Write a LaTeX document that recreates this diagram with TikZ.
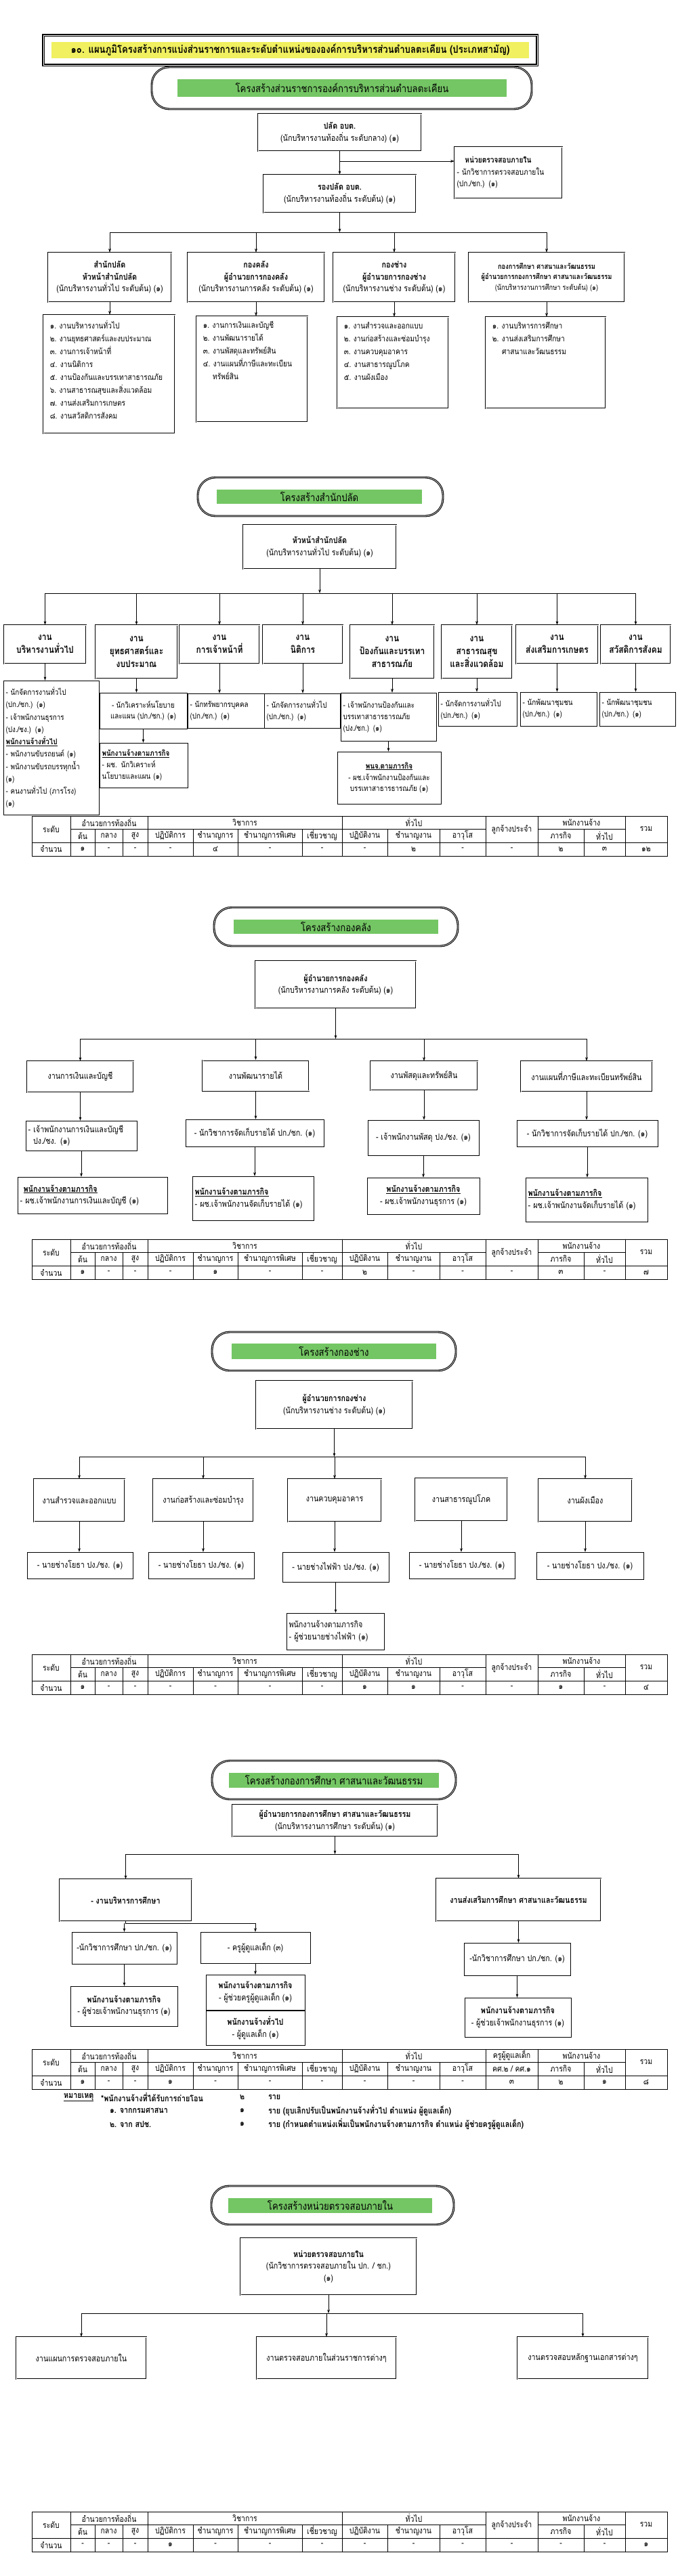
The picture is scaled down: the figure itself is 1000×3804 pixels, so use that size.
\documentclass[tikz,border=0pt]{standalone}
\usepackage{fontspec}
\setmainfont[Script=Thai,FakeStretch=0.85]{Loma}
\usetikzlibrary{arrows.meta}

\definecolor{titleyellow}{RGB}{240,240,96}
\definecolor{boxgreen}{RGB}{116,198,100}

\newcommand{\bodyfont}{\fontsize{18}{25}\selectfont}
\newcommand{\listfont}{\fontsize{17}{27}\selectfont}
\newcommand{\tabfont}{\fontsize{17.5}{19}\selectfont}
\newcommand{\workfont}{\fontsize{20}{27}\selectfont\bfseries}
\newcommand{\ovalfont}{\fontsize{22}{24}\selectfont}
\newcommand{\titlefont}{\fontsize{22}{26}\selectfont\bfseries}
\newcommand{\bul}[1]{\underline{\textbf{#1}}}

\tikzset{
  dbox/.style={draw=black, line width=0.8pt, double=white, double distance=1.2pt, align=center, inner sep=3pt},
  sbox/.style={draw=black, line width=0.8pt, align=center, inner sep=3pt},
  sz/.style 2 args={minimum width=#1*0.5mm, minimum height=#2*0.5mm},
  lsz/.style 2 args={/utils/exec={\pgfmathsetlengthmacro\boxtw{#1*0.5mm-10pt}}, text width=\boxtw, inner xsep=5pt, minimum height=#2*0.5mm, align=left},
  oval/.style={draw=black, line width=1.6pt, double=white, double distance=0.9pt, rounded corners=13mm},
  ovaltext/.style={fill=boxgreen, inner sep=0pt, font=\ovalfont},
  listtext/.style={anchor=north west, align=left, inner sep=0pt, font=\listfont},
  arr/.style={->, line width=0.8pt},
  bus/.style={line width=0.8pt},
  tabline/.style={line width=0.7pt},
  tabcell/.style={font=\tabfont, inner sep=0pt},
  notetext/.style={anchor=west, inner sep=0pt, font=\fontsize{18}{20}\selectfont\bfseries},
}

% ตารางอัตรากำลัง: #1 ชื่อ, #2 ขอบบน, #3 หัวคอลัมน์ลูกจ้าง, #4 จำนวน
\newcommand{\stafftable}[4]{%
  \begin{scope}[shift={(0,#2)}]
    \draw[tabline] (47,0) rectangle (985,59);
    \draw[tabline] (47,39) -- (985,39);
    \draw[tabline] (104,19) -- (717,19) (794,19) -- (923,19);
    \foreach \cx in {104,218,505,717,794,923}
      \draw[tabline] (\cx,0) -- (\cx,59);
    \foreach \cx in {140,181,285,351,446,572,649,862}
      \draw[tabline] (\cx,19) -- (\cx,59);
    \node[tabcell] (#1-lvl) at (75.5,19.5) {ระดับ};
    \node[tabcell] (#1-dir) at (161,9.5) {อำนวยการท้องถิ่น};
    \node[tabcell] (#1-d1) at (122,29) {ต้น};
    \node[tabcell] (#1-d2) at (160.5,29) {กลาง};
    \node[tabcell] (#1-d3) at (199.5,29) {สูง};
    \node[tabcell] (#1-aca) at (361.5,9.5) {วิชาการ};
    \node[tabcell] (#1-a1) at (251.5,29) {ปฏิบัติการ};
    \node[tabcell] (#1-a2) at (318,29) {ชำนาญการ};
    \node[tabcell] (#1-a3) at (398.5,29) {ชำนาญการพิเศษ};
    \node[tabcell] (#1-a4) at (475.5,29) {เชี่ยวชาญ};
    \node[tabcell] (#1-gen) at (611,9.5) {ทั่วไป};
    \node[tabcell] (#1-g1) at (538.5,29) {ปฏิบัติงาน};
    \node[tabcell] (#1-g2) at (610.5,29) {ชำนาญงาน};
    \node[tabcell] (#1-g3) at (683,29) {อาวุโส};
    \node[tabcell] (#1-emp) at (755.5,19.5) {#3};
    \node[tabcell] (#1-hire) at (858.5,9.5) {พนักงานจ้าง};
    \node[tabcell] (#1-h1) at (828,29) {ภารกิจ};
    \node[tabcell] (#1-h2) at (892.5,29) {ทั่วไป};
    \node[tabcell] (#1-sum) at (954,19.5) {รวม};
    \node[tabcell] (#1-num) at (75.5,49) {จำนวน};
    \foreach \v [count=\i] in {#4}{
      \pgfmathsetmacro\cx{{122,160.5,199.5,251.5,318,398.5,475.5,538.5,610.5,683,755.5,828,892.5,954}[\i-1]}
      \node[tabcell] (#1-v\i) at (\cx,49) {\v};
    }
  \end{scope}}

\begin{document}
\begin{tikzpicture}[x=0.5mm, y=-0.5mm, font=\bodyfont, >={Stealth[length=8pt,width=5.5pt]}]
\fill[white] (0,0) rectangle (1000,3804);
\useasboundingbox (0,0) rectangle (1000,3804);

% ===== หัวเรื่อง
\node[draw, line width=2pt, double=white, double distance=1pt, sz={729}{44}] (titlebox) at (428.5,74) {};
\node[fill=titleyellow, inner sep=0pt, sz={705}{24}, font=\titlefont] (title) at (428.5,74) {๑๐. แผนภูมิโครงสร้างการแบ่งส่วนราชการและระดับตำแหน่งขององค์การบริหารส่วนตำบลตะเคียน  (ประเภทสามัญ)};

% ===== โครงสร้างส่วนราชการ
\node[oval, sz={561}{62}] (ov0) at (504.5,130) {};
\node[ovaltext, sz={486}{26}] (ov0t) at (505,130) {โครงสร้างส่วนราชการองค์การบริหารส่วนตำบลตะเคียน};

\node[dbox, sz={241}{55}] (plad) at (501.5,195.5) {\textbf{ปลัด  อบต.}\\(นักบริหารงานท้องถิ่น ระดับกลาง) (๑)};
\node[dbox, lsz={159}{76}, font=\fontsize{17}{25}\selectfont] (audit) at (750.5,255) {\hspace*{1em}\textbf{หน่วยตรวจสอบภายใน}\\- นักวิชาการตรวจสอบภายใน\\(ปก./ชก.) (๑)};
\node[dbox, sz={225}{56}] (rong) at (501.5,286) {\textbf{รองปลัด  อบต.}\\(นักบริหารงานท้องถิ่น ระดับต้น) (๑)};
\draw[arr] (plad.south) -- (rong.north);
\coordinate (j0) at (501.5,238);
\draw[arr] (j0) -- (j0 -| audit.west);

\node[dbox, sz={182}{73}] (div1) at (162,409.5) {\textbf{สำนักปลัด}\\\textbf{หัวหน้าสำนักปลัด}\\(นักบริหารงานทั่วไป ระดับต้น) (๑)};
\node[dbox, sz={202}{73}] (div2) at (378,409.5) {\textbf{กองคลัง}\\\textbf{ผู้อำนวยการกองคลัง}\\(นักบริหารงานการคลัง ระดับต้น) (๑)};
\node[dbox, sz={180}{73}] (div3) at (582,409.5) {\textbf{กองช่าง}\\\textbf{ผู้อำนวยการกองช่าง}\\(นักบริหารงานช่าง ระดับต้น) (๑)};
\node[dbox, sz={230}{73}, font=\fontsize{15.5}{22}\selectfont] (div4) at (807,409.5) {\textbf{กองการศึกษา ศาสนาและวัฒนธรรม}\\\textbf{ผู้อำนวยการกองการศึกษา ศาสนาและวัฒนธรรม}\\(นักบริหารงานการศึกษา ระดับต้น) (๑)};
\coordinate (bus0) at (501.5,343);
\draw[arr] (rong.south) -- (bus0);
\draw[bus] (div1.north |- bus0) -- (div4.north |- bus0);
\draw[arr] (div1.north |- bus0) -- (div1.north);
\draw[arr] (div2.north |- bus0) -- (div2.north);
\draw[arr] (div3.north |- bus0) -- (div3.north);
\draw[arr] (div4.north |- bus0) -- (div4.north);

\node[dbox, sz={194}{175}] (list1) at (161,552.5) {};
\node[dbox, sz={164}{156}] (list2) at (372,545) {};
\node[dbox, sz={164}{135}] (list3) at (580,535.5) {};
\node[dbox, sz={177}{135}] (list4) at (805.5,535.5) {};
\node[listtext] (list1t) at ([shift={(10,8)}]list1.north west) {๑. งานบริหารงานทั่วไป\\๒. งานยุทธศาสตร์และงบประมาณ\\๓. งานการเจ้าหน้าที่\\๔. งานนิติการ\\๕. งานป้องกันและบรรเทาสาธารณภัย\\๖. งานสาธารณสุขและสิ่งแวดล้อม\\๗. งานส่งเสริมการเกษตร\\๘. งานสวัสดิการสังคม};
\node[listtext] (list2t) at ([shift={(10,8)}]list2.north west) {๑. งานการเงินและบัญชี\\๒. งานพัฒนารายได้\\๓. งานพัสดุและทรัพย์สิน\\๔. งานแผนที่ภาษีและทะเบียน\\\hspace*{1.2em}ทรัพย์สิน};
\node[listtext] (list3t) at ([shift={(10,8)}]list3.north west) {๑. งานสำรวจและออกแบบ\\๒. งานก่อสร้างและซ่อมบำรุง\\๓. งานควบคุมอาคาร\\๔. งานสาธารณูปโภค\\๕. งานผังเมือง};
\node[listtext] (list4t) at ([shift={(10,8)}]list4.north west) {๑. งานบริหารการศึกษา\\๒. งานส่งเสริมการศึกษา\\\hspace*{1.2em}ศาสนาและวัฒนธรรม};
\draw[arr] (div1.south) -- (div1.south |- list1.north);
\draw[arr] (div2.south) -- (div2.south |- list2.north);
\draw[arr] (div3.south) -- (div3.south |- list3.north);
\draw[arr] (div4.south) -- (div4.south |- list4.north);

% ===== โครงสร้างสำนักปลัด
\node[oval, sz={362}{57}] (ov1) at (473,733.5) {};
\node[ovaltext, sz={303}{21}] (ov1t) at (471.5,733.5) {โครงสร้างสำนักปลัด};
\node[dbox, sz={226}{65}] (head1) at (472,807.5) {\textbf{หัวหน้าสำนักปลัด}\\(นักบริหารงานทั่วไป ระดับต้น) (๑)};

\node[dbox, sz={121}{57}, font=\workfont] (g1) at (66.5,951.5) {งาน\\บริหารงานทั่วไป};
\node[dbox, sz={121}{79}, font=\workfont] (g2) at (201.5,962.5) {งาน\\ยุทธศาสตร์และ\\งบประมาณ};
\node[dbox, sz={118}{57}, font=\workfont] (g3) at (324,951.5) {งาน\\การเจ้าหน้าที่};
\node[dbox, sz={118}{57}, font=\workfont] (g4) at (447,951.5) {งาน\\นิติการ};
\node[dbox, sz={124}{79}, font=\workfont] (g5) at (579,962.5) {งาน\\ป้องกันและบรรเทา\\สาธารณภัย};
\node[dbox, sz={104}{79}, font=\workfont] (g6) at (704,962.5) {งาน\\สาธารณสุข\\และสิ่งแวดล้อม};
\node[dbox, sz={121}{57}, font=\workfont] (g7) at (822.5,951.5) {งาน\\ส่งเสริมการเกษตร};
\node[dbox, sz={103}{57}, font=\workfont] (g8) at (938.5,951.5) {งาน\\สวัสดิการสังคม};
\coordinate (bus1) at (472,876);
\draw[arr] (head1.south) -- (bus1);
\draw[bus] (g1.north |- bus1) -- (g8.north |- bus1);
\draw[arr] (g1.north |- bus1) -- (g1.north);
\draw[arr] (g2.north |- bus1) -- (g2.north);
\draw[arr] (g3.north |- bus1) -- (g3.north);
\draw[arr] (g4.north |- bus1) -- (g4.north);
\draw[arr] (g5.north |- bus1) -- (g5.north);
\draw[arr] (g6.north |- bus1) -- (g6.north);
\draw[arr] (g7.north |- bus1) -- (g7.north);
\draw[arr] (g8.north |- bus1) -- (g8.north);

\node[sbox, lsz={141}{198}, font=\fontsize{16.5}{26}\selectfont] (e1) at (75.5,1104) {- นักจัดการงานทั่วไป\\(ปก./ชก.) (๑)\\- เจ้าพนักงานธุรการ\\(ปง./ชง.) (๑)\\\bul{พนักงานจ้างทั่วไป}\\- พนักงานขับรถยนต์ (๑)\\- พนักงานขับรถบรรทุกน้ำ\\(๑)\\- คนงานทั่วไป (ภารโรง)\\(๑)};
\node[sbox, sz={129}{53}, font=\fontsize{16.5}{24}\selectfont] (e2) at (211.5,1049.5) {- นักวิเคราะห์นโยบาย\\และแผน (ปก./ชก.) (๑)};
\node[sbox, lsz={130}{66}, font=\fontsize{16.5}{24}\selectfont] (e2b) at (212,1130) {\bul{พนักงานจ้างตามภารกิจ}\\- ผช. นักวิเคราะห์\\นโยบายและแผน  (๑)};
\node[sbox, lsz={113}{51}, font=\fontsize{16.5}{24}\selectfont] (e3) at (333.5,1049.5) {- นักทรัพยากรบุคคล\\(ปก./ชก.) (๑)};
\node[sbox, lsz={112}{51}, font=\fontsize{16.5}{24}\selectfont] (e4) at (446,1049.5) {- นักจัดการงานทั่วไป\\(ปก./ชก.) (๑)};
\node[sbox, lsz={141}{71}, font=\fontsize{16.5}{24}\selectfont] (e5) at (573.5,1058.5) {- เจ้าพนักงานป้องกันและ\\บรรเทาสาธารธารณภัย\\(ปง./ชก.) (๑)};
\node[sbox, sz={153}{77}, font=\fontsize{16.5}{24}\selectfont] (e5b) at (574.5,1148.5) {\bul{พนจ.ตามภารกิจ}\\- ผช.เจ้าพนักงานป้องกันและ\\บรรเทาสาธารธารณภัย  (๑)};
\node[sbox, lsz={116}{50}, font=\fontsize{16.5}{24}\selectfont] (e6) at (705,1047) {- นักจัดการงานทั่วไป\\(ปก./ชก.) (๑)};
\node[sbox, lsz={113}{50}, font=\fontsize{16.5}{24}\selectfont] (e7) at (824.5,1047) {- นักพัฒนาชุมชน\\(ปก./ชก.) (๑)};
\node[sbox, lsz={112}{50}, font=\fontsize{16.5}{24}\selectfont] (e8) at (941,1047) {- นักพัฒนาชุมชน\\(ปก./ชก.) (๑)};
\draw[arr] (g1.south) -- (g1.south |- e1.north);
\draw[arr] (g2.south) -- (g2.south |- e2.north);
\draw[arr] (e2.south) -- (e2.south |- e2b.north);
\draw[arr] (g3.south) -- (g3.south |- e3.north);
\draw[arr] (g4.south) -- (g4.south |- e4.north);
\draw[arr] (g5.south) -- (g5.south |- e5.north);
\draw[arr] (e5.south) -- (e5.south |- e5b.north);
\draw[arr] (g6.south) -- (g6.south |- e6.north);
\draw[arr] (g7.south) -- (g7.south |- e7.north);
\draw[arr] (g8.south) -- (g8.south |- e8.north);

\stafftable{tab1}{1205}{ลูกจ้างประจำ}{๑,-,-,-,๔,-,-,-,๒,-,-,๒,๓,๑๒}

% ===== โครงสร้างกองคลัง
\node[oval, sz={360}{57}] (ov2) at (496,1368.5) {};
\node[ovaltext, sz={302}{21}] (ov2t) at (496,1368.5) {โครงสร้างกองคลัง};
\node[dbox, sz={237}{70}] (head2) at (495.5,1454) {\textbf{ผู้อำนวยการกองคลัง}\\(นักบริหารงานการคลัง ระดับต้น) (๑)};

\node[dbox, sz={157}{46}] (k1) at (118.5,1590) {งานการเงินและบัญชี};
\node[dbox, sz={157}{45}] (k2) at (377.5,1588) {งานพัฒนารายได้};
\node[dbox, sz={158}{43}] (k3) at (626,1588.5) {งานพัสดุและทรัพย์สิน};
\node[dbox, sz={194}{45}] (k4) at (866,1589.5) {งานแผนที่ภาษีและทะเบียนทรัพย์สิน};
\coordinate (bus2) at (495.5,1534);
\draw[arr] (head2.south) -- (bus2);
\draw[bus] (k1.north |- bus2) -- (k4.north |- bus2);
\draw[arr] (k1.north |- bus2) -- (k1.north);
\draw[arr] (k2.north |- bus2) -- (k2.north);
\draw[arr] (k3.north |- bus2) -- (k3.north);
\draw[arr] (k4.north |- bus2) -- (k4.north);

\node[sbox, lsz={164}{44}] (m1) at (120,1677) {- เจ้าพนักงานการเงินและบัญชี\\\hspace*{0.6em}ปง./ชง. (๑)};
\node[sbox, sz={204}{40}] (m2) at (376,1673) {- นักวิชาการจัดเก็บรายได้ ปก./ชก. (๑)};
\node[sbox, sz={164}{52}] (m3) at (625,1680) {- เจ้าพนักงานพัสดุ  ปง./ชง. (๑)};
\node[sbox, sz={208}{39}] (m4) at (867,1673.5) {- นักวิชาการจัดเก็บรายได้ ปก./ชก. (๑)};
\draw[arr] (k1.south) -- (k1.south |- m1.north);
\draw[arr] (k2.south) -- (k2.south |- m2.north);
\draw[arr] (k3.south) -- (k3.south |- m3.north);
\draw[arr] (k4.south) -- (k4.south |- m4.north);

\node[sbox, lsz={221}{54}] (n1) at (136.5,1765) {\hspace*{0.4em}\bul{พนักงานจ้างตามภารกิจ}\\- ผช.เจ้าพนักงานการเงินและบัญชี (๑)};
\node[sbox, lsz={179}{65}] (n2) at (373.5,1769.5) {\bul{พนักงานจ้างตามภารกิจ}\\- ผช.เจ้าพนักงานจัดเก็บรายได้  (๑)};
\node[sbox, sz={166}{54}] (n3) at (625,1766) {\bul{พนักงานจ้างตามภารกิจ}\\- ผช.เจ้าพนักงานธุรการ (๑)};
\node[sbox, lsz={180}{65}] (n4) at (866,1771.5) {\bul{พนักงานจ้างตามภารกิจ}\\- ผช.เจ้าพนักงานจัดเก็บรายได้  (๑)};
\draw[arr] (m1.south) -- (m1.south |- n1.north);
\draw[arr] (m2.south) -- (m2.south |- n2.north);
\draw[arr] (m3.south) -- (m3.south |- n3.north);
\draw[arr] (m4.south) -- (m4.south |- n4.north);

\stafftable{tab2}{1830}{ลูกจ้างประจำ}{๑,-,-,-,๑,-,-,๒,-,-,-,๓,-,๗}

% ===== โครงสร้างกองช่าง
\node[oval, sz={360}{57}] (ov3) at (493,1995.5) {};
\node[ovaltext, sz={302}{23}] (ov3t) at (493,1995.5) {โครงสร้างกองช่าง};
\node[dbox, sz={231}{71}] (head3) at (493.5,2074.5) {\textbf{ผู้อำนวยการกองช่าง}\\(นักบริหารงานช่าง ระดับต้น)  (๑)};

\node[dbox, sz={134}{63}] (c1) at (117,2215.5) {งานสำรวจและออกแบบ};
\node[dbox, sz={148}{63}] (c2) at (300,2215.5) {งานก่อสร้างและซ่อมบำรุง};
\node[dbox, sz={138}{63}] (c3) at (494,2215.5) {งานควบคุมอาคาร};
\node[dbox, sz={136}{63}] (c4) at (681,2214.5) {งานสาธารณูปโภค};
\node[dbox, sz={138}{63}] (c5) at (864,2215.5) {งานผังเมือง};
\coordinate (bus3) at (493.5,2151);
\draw[arr] (head3.south) -- (bus3);
\draw[bus] (c1.north |- bus3) -- (c5.north |- bus3);
\draw[arr] (c1.north |- bus3) -- (c1.north);
\draw[arr] (c2.north |- bus3) -- (c2.north);
\draw[arr] (c3.north |- bus3) -- (c3.north);
\draw[arr] (c5.north |- bus3) -- (c5.north);

\node[sbox, sz={156}{39}] (t1) at (118,2311.5) {- นายช่างโยธา  ปง./ชง. (๑)};
\node[sbox, sz={156}{39}] (t2) at (297,2311.5) {- นายช่างโยธา  ปง./ชง. (๑)};
\node[sbox, sz={157}{44}] (t3) at (495.5,2314) {- นายช่างไฟฟ้า  ปง./ชง. (๑)};
\node[sbox, sz={156}{39}] (t4) at (682,2311.5) {- นายช่างโยธา  ปง./ชง. (๑)};
\node[sbox, sz={158}{40}] (t5) at (871,2312) {- นายช่างโยธา  ปง./ชง. (๑)};
\draw[arr] (c1.south) -- (c1.south |- t1.north);
\draw[arr] (c2.south) -- (c2.south |- t2.north);
\draw[arr] (c3.south) -- (c3.south |- t3.north);
\draw[arr] (c4.south) -- (c4.south |- t4.north);
\draw[arr] (c5.south) -- (c5.south |- t5.north);
\node[sbox, lsz={144}{54}] (t3b) at (495,2409) {พนักงานจ้างตามภารกิจ\\- ผู้ช่วยนายช่างไฟฟ้า (๑)};
\draw[arr] (t3.south) -- (t3.south |- t3b.north);

\stafftable{tab3}{2443}{ลูกจ้างประจำ}{๑,-,-,-,-,-,-,๑,๑,-,-,๑,-,๔}

% ===== โครงสร้างกองการศึกษา
\node[oval, sz={360}{57}] (ov4) at (493,2628.5) {};
\node[ovaltext, sz={310}{22}] (ov4t) at (493,2628.5) {โครงสร้างกองการศึกษา ศาสนาและวัฒนธรรม};
\node[dbox, sz={303}{47}] (head4) at (494.5,2688.5) {\textbf{ผู้อำนวยการกองการศึกษา ศาสนาและวัฒนธรรม}\\(นักบริหารงานการศึกษา ระดับต้น) (๑)};

\node[dbox, sz={195}{62}] (s1) at (185.5,2806) {\textbf{- งานบริหารการศึกษา}};
\node[dbox, sz={243}{63}] (s2) at (765.5,2805.5) {\textbf{งานส่งเสริมการศึกษา ศาสนาและวัฒนธรรม}};
\coordinate (bus4) at (494.5,2738);
\draw[arr] (head4.south) -- (bus4);
\draw[bus] (s1.north |- bus4) -- (s2.north |- bus4);
\draw[arr] (s1.north |- bus4) -- (s1.north);
\draw[arr] (s2.north |- bus4) -- (s2.north);

\node[sbox, sz={155}{47}] (sA) at (183.5,2876.5) {-นักวิชาการศึกษา ปก./ชก. (๑)};
\node[sbox, sz={162}{46}] (sB) at (377,2876) {- ครูผู้ดูแลเด็ก  (๓)};
\node[sbox, sz={158}{59}] (sA2) at (183,2962.5) {\textbf{พนักงานจ้างตามภารกิจ}\\- ผู้ช่วยเจ้าพนักงานธุรการ  (๑)};
\node[sbox, sz={146}{52}] (sB2) at (377,2942) {\textbf{พนักงานจ้างตามภารกิจ}\\- ผู้ช่วยครูผู้ดูแลเด็ก (๑)};
\node[sbox, sz={146}{51}] (sB3) at (377,2994.5) {\textbf{พนักงานจ้างทั่วไป}\\- ผู้ดูแลเด็ก (๑)};
\coordinate (sbus) at (185.5,2840);
\draw[bus] (s1.south) -- (sbus) -- (sbus -| sB.north);
\draw[arr] (sbus -| sA.north) -- (sA.north);
\draw[arr] (sbus -| sB.north) -- (sB.north);
\draw[arr] (sA.south) -- (sA.south |- sA2.north);
\draw[arr] (sB.south) -- (sB.south |- sB2.north);

\node[sbox, sz={157}{48}] (sR1) at (763.5,2893) {-นักวิชาการศึกษา ปก./ชก. (๑)};
\node[sbox, sz={157}{58}] (sR2) at (764.5,2979) {\textbf{พนักงานจ้างตามภารกิจ}\\- ผู้ช่วยเจ้าพนักงานธุรการ  (๑)};
\draw[arr] (s2.south) -- (s2.south |- sR1.north);
\draw[arr] (sR1.south) -- (sR1.south |- sR2.north);

\stafftable{tab4}{3026}{}{๑,-,-,๑,-,-,-,-,-,-,๓,๒,๑,๘}
\draw[tabline] (717,3045) -- (794,3045);
\node[tabcell] (tab4-kru) at (755.5,3035.5) {ครูผู้ดูแลเด็ก};
\node[tabcell] (tab4-ks) at (755.5,3055) {คศ.๒ / คศ.๑};

\node[notetext] (note0) at (94,3097) {\underline{หมายเหตุ}};
\node[notetext] (note1) at (149,3097) {*พนักงานจ้างที่ได้รับการถ่ายโอน};
\node[notetext] (note1n) at (354,3097) {๒};
\node[notetext] (note1r) at (396,3097) {ราย};
\node[notetext] (note2) at (162,3117) {๑.  จากกรมศาสนา};
\node[notetext] (note2n) at (354,3117) {๑};
\node[notetext] (note2r) at (396,3117) {ราย  (ยุบเลิกปรับเป็นพนักงานจ้างทั่วไป ตำแหน่ง  ผู้ดูแลเด็ก)};
\node[notetext] (note3) at (162,3137) {๒.  จาก สปช.};
\node[notetext] (note3n) at (354,3137) {๑};
\node[notetext] (note3r) at (396,3137) {ราย  (กำหนดตำแหน่งเพิ่มเป็นพนักงานจ้างตามภารกิจ  ตำแหน่ง  ผู้ช่วยครูผู้ดูแลเด็ก)};

% ===== โครงสร้างหน่วยตรวจสอบภายใน
\node[oval, sz={358}{57}] (ov5) at (491,3256.5) {};
\node[ovaltext, sz={301}{22}] (ov5t) at (487.5,3257) {โครงสร้างหน่วยตรวจสอบภายใน};
\node[dbox, sz={260}{84}] (head5) at (485,3347) {\textbf{หน่วยตรวจสอบภายใน}\\(นักวิชาการตรวจสอบภายใน  ปก. / ชก.)\\(๑)};

\node[dbox, sz={192}{62}] (u1) at (120,3482) {งานแผนการตรวจสอบภายใน};
\node[dbox, sz={206}{62}] (u2) at (482,3482) {งานตรวจสอบภายในส่วนราชการต่างๆ};
\node[dbox, sz={193}{62}] (u3) at (860.5,3482) {งานตรวจสอบหลักฐานเอกสารต่างๆ};
\coordinate (bus5) at (485,3416);
\draw[arr] (head5.south) -- (bus5);
\draw[bus] (u1.north |- bus5) -- (u3.north |- bus5);
\draw[arr] (u1.north |- bus5) -- (u1.north);
\draw[arr] (u2.north |- bus5) -- (u2.north);
\draw[arr] (u3.north |- bus5) -- (u3.north);

\stafftable{tab5}{3709}{ลูกจ้างประจำ}{-,-,-,๑,-,-,-,-,-,-,-,-,-,๑}
\end{tikzpicture}
\end{document}
